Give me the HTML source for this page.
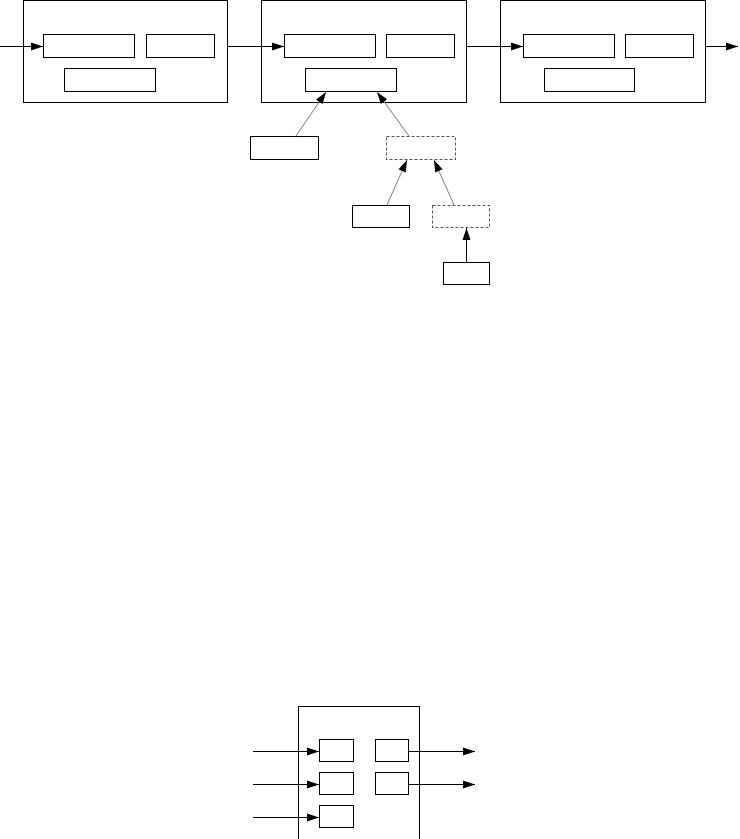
<!DOCTYPE html>
<html><head><meta charset="utf-8"><style>html,body{margin:0;padding:0;background:#fff;}svg{display:block}</style></head>
<body>
<svg width="740" height="839" viewBox="0 0 740 839" xmlns="http://www.w3.org/2000/svg">
<defs>
<marker id="a" markerWidth="12" markerHeight="8" refX="12" refY="4" orient="auto" markerUnits="userSpaceOnUse">
<path d="M0,0 L12,4 L0,8 z" fill="#000"/></marker>
</defs>
<g fill="none" stroke="#000" stroke-width="1">
<rect x="23.5" y="0.5" width="204" height="102"/>
<rect x="43.5" y="34.5" width="91" height="23"/>
<rect x="146.5" y="34.5" width="68" height="23"/>
<rect x="64.5" y="68.5" width="91" height="23"/>
<rect x="261.5" y="0.5" width="205" height="102"/>
<rect x="284.5" y="34.5" width="91" height="23"/>
<rect x="386.5" y="34.5" width="68" height="23"/>
<rect x="305.5" y="68.5" width="91" height="23"/>
<rect x="500.5" y="0.5" width="205" height="102"/>
<rect x="523.5" y="34.5" width="91" height="23"/>
<rect x="625.5" y="34.5" width="68" height="23"/>
<rect x="544.5" y="68.5" width="90" height="23"/>
<line x1="0" y1="46.5" x2="43" y2="46.5" marker-end="url(#a)"/>
<line x1="228" y1="46.5" x2="284" y2="46.5" marker-end="url(#a)"/>
<line x1="467" y1="46.5" x2="523" y2="46.5" marker-end="url(#a)"/>
<line x1="706" y1="46.5" x2="738" y2="46.5" marker-end="url(#a)"/>
<rect x="250.5" y="136.5" width="68" height="23"/>
<rect x="386.5" y="136.5" width="69" height="23" stroke="#555" stroke-dasharray="3,2"/>
<rect x="352.5" y="205.5" width="57" height="22"/>
<rect x="432.5" y="205.5" width="57" height="22" stroke="#555" stroke-dasharray="3,2"/>
<rect x="443.5" y="262.5" width="46" height="22"/>
<line x1="296" y1="136" x2="326" y2="92" stroke="#888" marker-end="url(#a)"/>
<line x1="409" y1="136" x2="377" y2="92" stroke="#888" marker-end="url(#a)"/>
<line x1="387" y1="205" x2="407" y2="160" stroke="#888" marker-end="url(#a)"/>
<line x1="454" y1="205" x2="434" y2="160" stroke="#888" marker-end="url(#a)"/>
<line x1="466.5" y1="262" x2="466.5" y2="228" marker-end="url(#a)"/>
<rect x="298.5" y="706.5" width="121" height="140"/>
<rect x="319.5" y="739.5" width="34" height="22"/>
<rect x="375.5" y="739.5" width="33" height="22"/>
<rect x="319.5" y="772.5" width="34" height="22"/>
<rect x="375.5" y="772.5" width="33" height="22"/>
<rect x="319.5" y="805.5" width="34" height="22"/>
<line x1="253" y1="751.5" x2="319" y2="751.5" marker-end="url(#a)"/>
<line x1="253" y1="784.5" x2="319" y2="784.5" marker-end="url(#a)"/>
<line x1="253" y1="817.5" x2="319" y2="817.5" marker-end="url(#a)"/>
<line x1="409" y1="751.5" x2="475" y2="751.5" marker-end="url(#a)"/>
<line x1="409" y1="784.5" x2="475" y2="784.5" marker-end="url(#a)"/>
</g>
</svg>
</body></html>
